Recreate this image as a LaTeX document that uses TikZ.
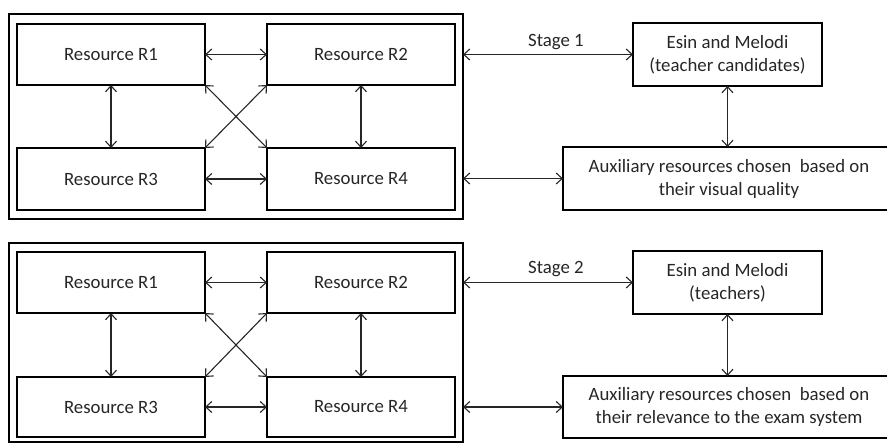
\documentclass[tikz,border=0pt]{standalone}
\usepackage{fontspec}
\setmainfont{Carlito}
\usetikzlibrary{arrows.meta}
\definecolor{ink}{HTML}{262626}
\begin{document}
\begin{tikzpicture}[x=1pt,y=-1pt,
  font=\fontsize{18.8}{23}\selectfont, text=ink,
  frame/.style={draw=black, line width=2.2pt, inner sep=0pt, outer sep=0pt},
  box/.style={draw=black, line width=2pt, inner sep=0pt, outer sep=0pt, align=center},
  link/.style={draw=ink, line width=1.1pt,
    {Straight Barb[length=6pt,width=11pt,line width=1.1pt]}-{Straight Barb[length=6pt,width=11pt,line width=1.1pt]}},
  lbl/.style={inner sep=0pt}]
\useasboundingbox (0,0) rectangle (887,443);

% ---------- Stage 1 ----------
\node[frame, minimum width=454pt, minimum height=205pt] (o1) at (236,116.5) {};
\node[box, minimum width=188pt, minimum height=61pt] (a1) at (111,54.5) {Resource R1};
\node[box, minimum width=188pt, minimum height=61pt] (b1) at (361,54.5) {Resource R2};
\node[box, minimum width=188pt, minimum height=62pt] (c1) at (111,179) {Resource R3};
\node[box, minimum width=188pt, minimum height=62pt] (d1) at (361,179) {Resource R4};
\node[box, minimum width=189pt, minimum height=63pt] (e1) at (727.5,54.5) {Esin and Melodi\\(teacher candidates)};
\node[box, minimum width=332pt, minimum height=63pt] (f1) at (729,178.5) {Auxiliary resources chosen~ based on\\their visual quality};
\node[lbl] (s1) at (556,42) {Stage 1};

\draw[link] (a1.east) -- (b1.west);
\draw[link] (c1.east) -- (d1.west);
\draw[link] (a1.south) -- (c1.north);
\draw[link] (b1.south) -- (d1.north);
\draw[link] (a1.south east) -- (d1.north west);
\draw[link] (b1.south west) -- (c1.north east);
\draw[link] (o1.east |- e1.west) -- (e1.west);
\draw[link] (o1.east |- f1.west) -- (f1.west);
\draw[link] (e1.south) -- (e1.south |- f1.north);

% ---------- Stage 2 ----------
\node[frame, minimum width=454pt, minimum height=199pt] (o2) at (236,342.5) {};
\node[box, minimum width=188pt, minimum height=61pt] (a2) at (111,282.5) {Resource R1};
\node[box, minimum width=188pt, minimum height=61pt] (b2) at (361,282.5) {Resource R2};
\node[box, minimum width=188pt, minimum height=60pt] (c2) at (111,407) {Resource R3};
\node[box, minimum width=188pt, minimum height=60pt] (d2) at (361,407) {Resource R4};
\node[box, minimum width=189pt, minimum height=63pt] (e2) at (727.5,282.5) {Esin and Melodi\\(teachers)};
\node[box, minimum width=332pt, minimum height=62pt] (f2) at (729,407) {Auxiliary resources chosen~ based on\\their relevance to the exam system};
\node[lbl] (s2) at (556,269) {Stage 2};

\draw[link] (a2.east) -- (b2.west);
\draw[link] (c2.east) -- (d2.west);
\draw[link] (a2.south) -- (c2.north);
\draw[link] (b2.south) -- (d2.north);
\draw[link] (a2.south east) -- (d2.north west);
\draw[link] (b2.south west) -- (c2.north east);
\draw[link] (o2.east |- e2.west) -- (e2.west);
\draw[link] (o2.east |- f2.west) -- (f2.west);
\draw[link] (e2.south) -- (e2.south |- f2.north);
\end{tikzpicture}
\end{document}
